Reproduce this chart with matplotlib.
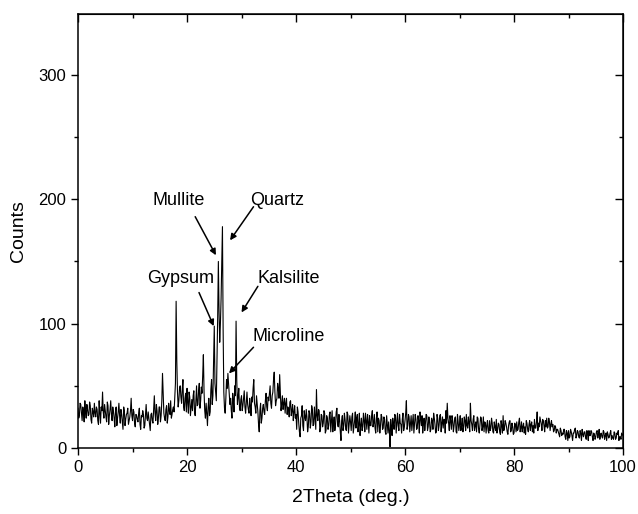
import numpy as np
import matplotlib
matplotlib.use('Agg')
import matplotlib.pyplot as plt
from matplotlib.ticker import MultipleLocator

plt.rcParams['font.family'] = ['Liberation Sans', 'DejaVu Sans']

# readings at whole 0.25 deg steps, 0 .. 100
counts = [
    32, 26, 35, 22,   30, 38, 24, 31,   27, 34, 20, 29,   36, 25, 31, 19,   # 0-3
    28, 33, 45, 24,   30, 21, 34, 26,   38, 22, 29, 17,   33, 24, 36, 20,   # 4-7
    27, 15, 30, 23,   28, 19, 25, 40,   22, 29, 17, 26,   21, 32, 15, 25,   # 8-11
    27, 18, 35, 22,   24, 14, 28, 20,   42, 22, 30, 24,   33, 26, 60, 28,   # 12-15
    22, 34, 25, 30,   38, 27, 33, 40,   118, 45, 38, 50,  36, 55, 30, 44,   # 16-19
    48, 28, 41, 33,   30, 46, 26, 50,   35, 52, 38, 44,   75, 30, 36, 18,   # 20-23
    40, 29, 55, 42,   98, 45, 70, 150,  85, 120, 178, 45, 28, 55, 60, 45,   # 24-27
    40, 24, 38, 50,   102, 35, 48, 30,  42, 34, 46, 28,   45, 31, 40, 26,   # 28-31
    37, 55, 33, 42,   29, 13, 36, 24,   35, 27, 44, 30,   38, 50, 32, 45,   # 32-35
    61, 34, 40, 48,   59, 30, 42, 36,   28, 40, 33, 25,   38, 30, 22, 34,   # 36-39
    27, 33, 20, 9,    26, 18, 30, 22,   25, 17, 28, 21,   31, 19, 24, 47,   # 40-43
    22, 30, 16, 26,   20, 28, 14, 24,   18, 29, 21, 13,   25, 19, 32, 17,   # 44-47
    22, 6, 26, 18,    23, 14, 27, 19,   21, 25, 12, 22,   16, 27, 19, 10,   # 48-51
    24, 17, 22, 28,   15, 21, 26, 18,   30, 20, 16, 24,   13, 22, 18, 25,   # 52-55
    16, 23, 11, 19,   21, 1, 17, 24,    15, 26, 20, 18,   27, 19, 23, 14,   # 56-59
    22, 38, 18, 25,   20, 14, 27, 19,   23, 16, 22, 29,   18, 12, 24, 20,   # 60-63
    26, 17, 21, 15,   22, 28, 19, 13,   24, 18, 27, 20,   16, 23, 30, 36,   # 64-67
    20, 26, 15, 22,   18, 25, 12, 21,   19, 14, 24, 17,   22, 27, 16, 20,   # 68-71
    36, 19, 23, 14,   21, 25, 15, 19,   24, 17, 13, 20,   18, 14, 22, 16,   # 72-75
    20, 12, 17, 23,   15, 19, 11, 18,   26, 16, 20, 13,   18, 22, 14, 17,   # 76-79
    12, 19, 21, 15,   24, 16, 13, 20,   17, 22, 15, 19,   14, 21, 18, 23,   # 80-83
    16, 29, 20, 25,   19, 23, 18, 22,   24, 17, 21, 19,   17, 13, 18, 12,   # 84-87
    15, 11, 16, 10,   11, 15, 7, 12,    14, 9, 13, 6,     12, 16, 10, 13,   # 88-91
    8, 12, 15, 9,     13, 7, 11, 14,    10, 13, 6, 11,    9, 14, 11, 7,     # 92-95
    12, 8, 13, 10,    6, 11, 9, 14,     10, 7, 12, 8,     11, 6, 9, 12,     # 96-99
    10,
]

# readings half-way between (x.125, x.375, x.625, x.875)
counts_mid = [
    24, 36, 28, 33,   21, 29, 35, 26,   37, 23, 32, 25,   28, 33, 22, 38,   # 0-3
    20, 30, 29, 35,   25, 37, 19, 31,   27, 33, 24, 30,   18, 29, 26, 31,   # 4-7
    21, 33, 18, 27,   32, 22, 30, 26,   31, 20, 27, 23,   28, 19, 26, 30,   # 8-11
    16, 26, 24, 29,   19, 27, 22, 31,   28, 35, 19, 33,   21, 38, 45, 24,   # 12-15
    31, 20, 36, 27,   24, 31, 29, 52,   70, 33, 48, 41,   47, 33, 40, 29,   # 16-19
    37, 45, 26, 39,   42, 29, 38, 34,   46, 32, 49, 58,   45, 24, 28, 33,   # 20-23
    26, 47, 35, 68,   52, 38, 105, 110, 100, 150, 95, 32, 40, 48, 52, 35,   # 24-27
    30, 44, 29, 42,   55, 41, 33, 39,   30, 40, 33, 37,   35, 28, 34, 41,   # 28-31
    48, 36, 28, 35,   19, 30, 20, 32,   29, 38, 33, 41,   44, 36, 42, 55,   # 32-35
    45, 38, 52, 40,   44, 35, 31, 40,   36, 27, 31, 37,   26, 35, 29, 24,   # 36-39
    15, 29, 13, 24,   34, 14, 25, 31,   13, 30, 16, 34,   18, 33, 15, 26,   # 40-43
    31, 13, 27, 17,   30, 12, 26, 15,   27, 13, 30, 20,   14, 29, 19, 27,   # 44-47
    13, 22, 14, 28,   15, 29, 12, 26,   14, 28, 17, 29,   24, 13, 28, 18,   # 48-51
    14, 28, 13, 21,   27, 12, 18, 26,   17, 27, 12, 29,   24, 12, 27, 15,   # 52-55
    25, 13, 26, 12,   14, 23, 10, 19,   27, 12, 28, 14,   20, 12, 28, 17,   # 56-59
    28, 15, 27, 13,   26, 21, 12, 27,   15, 26, 12, 24,   26, 19, 14, 27,   # 60-63
    14, 25, 13, 24,   15, 24, 12, 27,   14, 26, 13, 25,   23, 12, 20, 24,   # 64-67
    14, 22, 26, 13,   24, 13, 27, 14,   26, 18, 13, 25,   14, 18, 25, 13,   # 68-71
    22, 14, 26, 18,   13, 24, 12, 25,   14, 25, 21, 12,   22, 12, 14, 24,   # 72-75
    13, 21, 14, 12,   20, 13, 22, 12,   14, 22, 17, 11,   21, 13, 20, 11,   # 76-79
    20, 13, 14, 21,   13, 21, 17, 12,   11, 20, 13, 22,   19, 13, 12, 16,   # 80-83
    21, 14, 17, 22,   14, 22, 13, 17,   16, 24, 14, 22,   19, 14, 17, 15,   # 84-87
    13, 9, 14, 12,    15, 9, 14, 6,     8, 15, 10, 12,    15, 8, 14, 9,     # 88-91
    14, 6, 11, 13,    9, 14, 6, 10,     14, 9, 12, 7,     13, 8, 15, 11,    # 92-95
    9, 14, 7, 12,     13, 8, 12, 7,     8, 13, 7, 12,     14, 9, 7, 11,     # 96-99
]

# merge the two sets of readings onto one 0.125 deg grid
two_theta = np.linspace(0, 100, 801)
pattern = np.empty(801)
pattern[0::2] = counts
pattern[1::2] = counts_mid

fig = plt.figure(figsize=(6.38, 5.14), dpi=100)
ax = fig.add_axes([0.1223, 0.1284, 0.8542, 0.8444])

ax.plot(two_theta, pattern, color='black', lw=0.8)

ax.set_xlim(0, 100)
ax.set_ylim(0, 349)
ax.xaxis.set_major_locator(MultipleLocator(20))
ax.xaxis.set_minor_locator(MultipleLocator(10))
ax.yaxis.set_major_locator(MultipleLocator(100))
ax.yaxis.set_minor_locator(MultipleLocator(50))
ax.tick_params(which='major', direction='out', length=5, width=1, labelsize=12)
ax.tick_params(which='minor', direction='out', length=3, width=1)
for s in ax.spines.values():
    s.set_linewidth(1.1)

# mirrored ticks on top / right point inward
top = ax.secondary_xaxis('top')
top.xaxis.set_major_locator(MultipleLocator(20))
top.xaxis.set_minor_locator(MultipleLocator(10))
top.tick_params(which='major', direction='in', length=6, width=1, labeltop=False)
top.tick_params(which='minor', direction='in', length=3, width=1)
right = ax.secondary_yaxis('right')
right.yaxis.set_major_locator(MultipleLocator(100))
right.yaxis.set_minor_locator(MultipleLocator(50))
right.tick_params(which='major', direction='in', length=6, width=1, labelright=False)
right.tick_params(which='minor', direction='in', length=3, width=1)

ax.set_xlabel('2Theta (deg.)', fontsize=14, labelpad=10)
ax.set_ylabel('Counts', fontsize=14, labelpad=8)

# phase labels and arrows
arrow = dict(arrowstyle='-|>', color='black', lw=1.1, mutation_scale=9, shrinkA=0, shrinkB=0)
labels = [
    ('Mullite', (18.5, 199), (21.5, 186), (25.3, 155)),
    ('Quartz', (36.5, 199), (32.2, 194), (27.9, 167)),
    ('Gypsum', (18.8, 136), (22.2, 125), (24.9, 98)),
    ('Kalsilite', (38.6, 136), (33.0, 130), (30.0, 109)),
    ('Microline', (38.7, 90), (32.2, 81), (27.7, 60)),
]
for name, txt, tail, head in labels:
    ax.text(*txt, name, fontsize=13, ha='center', va='center')
    ax.annotate('', xy=head, xytext=tail, arrowprops=arrow)

fig.savefig('out.png', dpi=100)
